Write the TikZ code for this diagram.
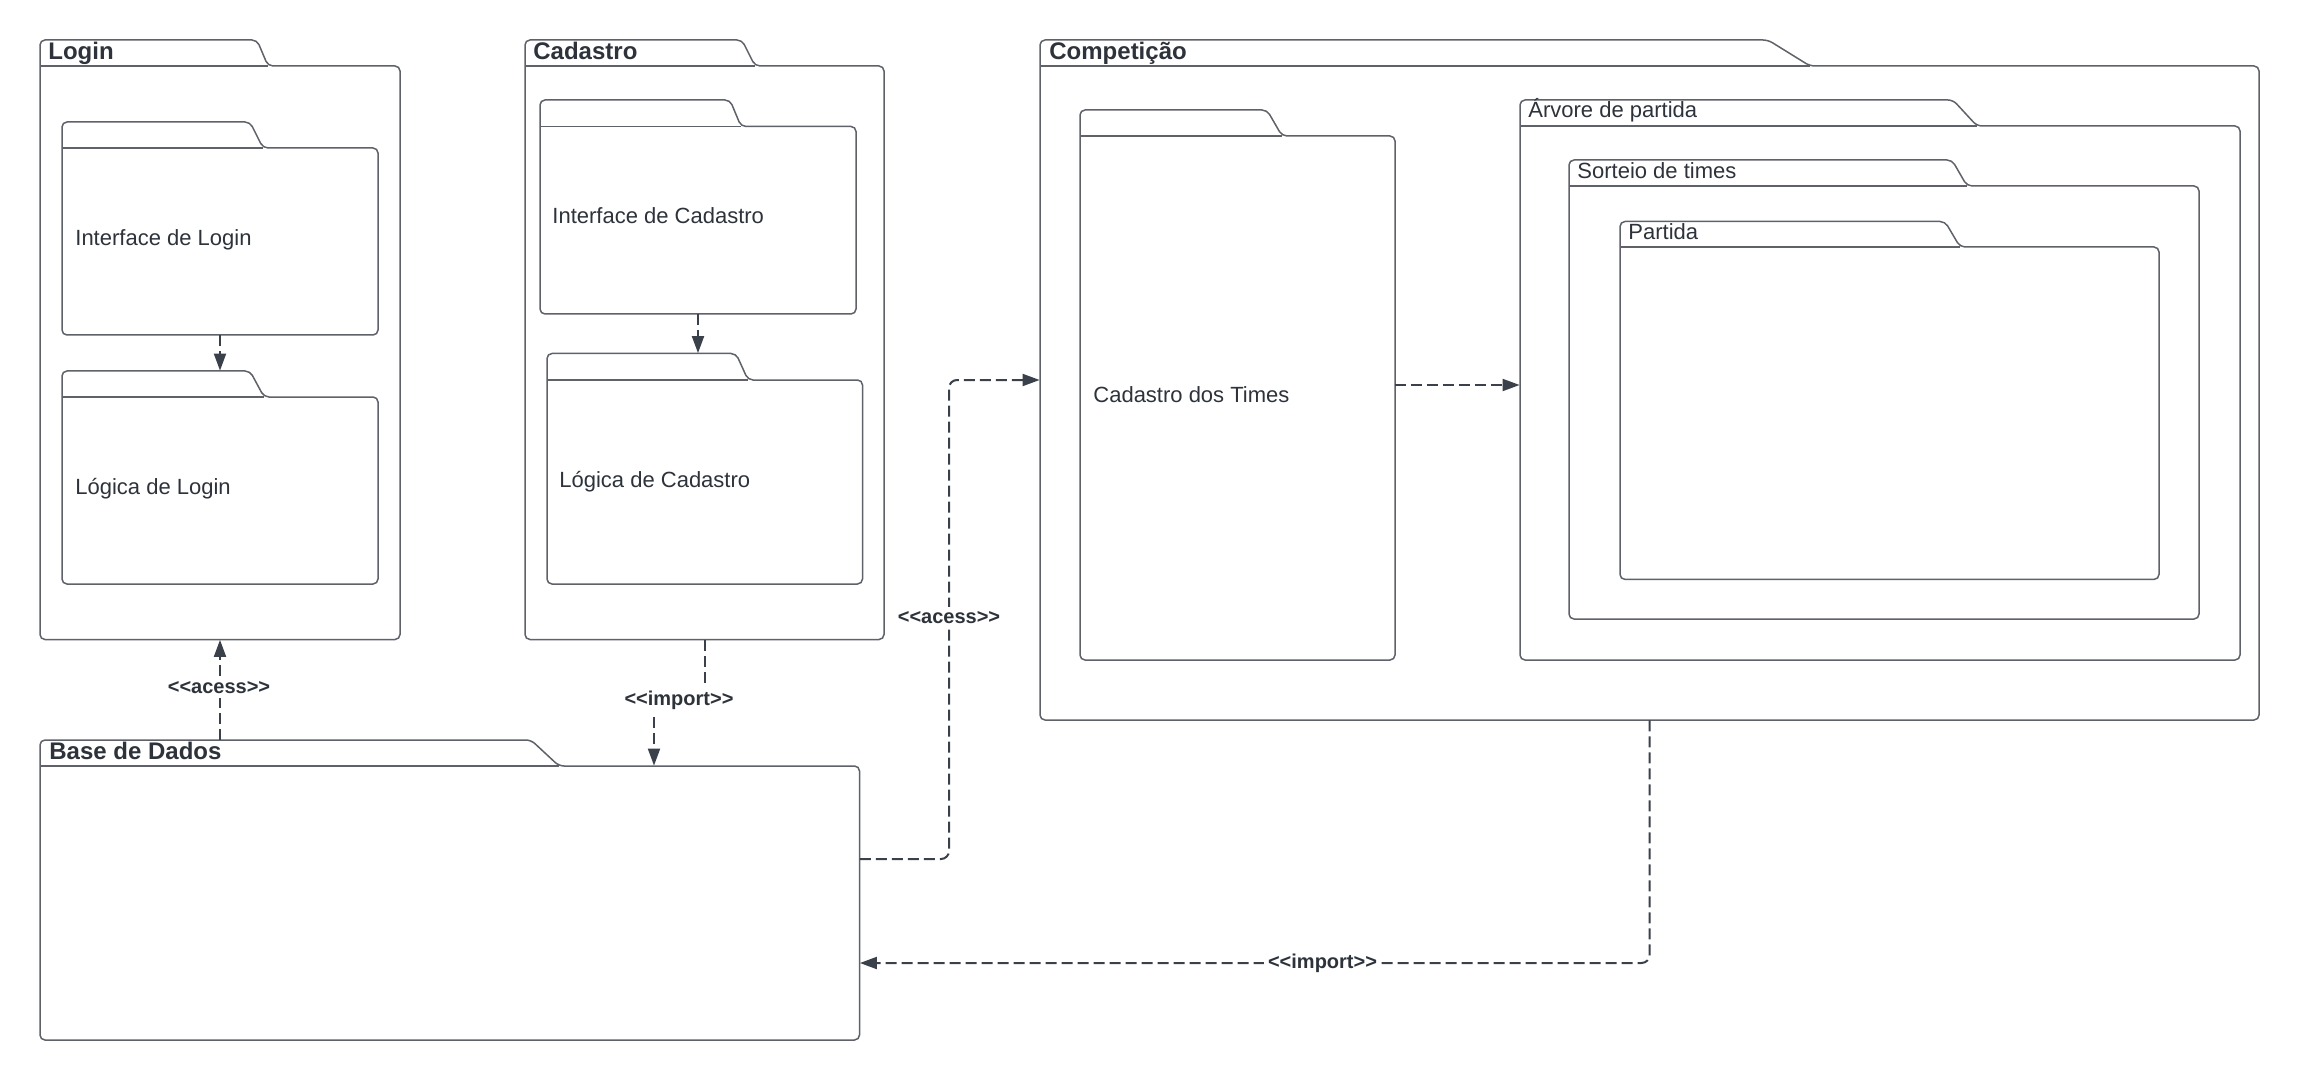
\documentclass[tikz,border=0pt]{standalone}
\usepackage{fontspec}
\setmainfont{Liberation Sans}[Ligatures=TeXOff]
\usetikzlibrary{arrows.meta,fit}

\definecolor{pkgline}{HTML}{5F6269}
\definecolor{depline}{HTML}{3A414A}
\definecolor{ink}{HTML}{2E333B}

\tikzset{
  pkg/.style={draw=pkgline, line width=0.75pt, fill=white, rounded corners=2.5pt},
  pkgframe/.style={inner sep=0pt, draw=none},
  pkgtitle/.style={anchor=base west, inner sep=0pt, text=ink,
    font=\bfseries\fontsize{12}{14}\selectfont},
  pkgtext/.style={anchor=base west, inner sep=0pt, text=ink,
    font=\fontsize{11}{13}\selectfont},
  dep/.style={draw=depline, line width=1pt, dash pattern=on 5.5pt off 2.5pt,
    -{Triangle[length=8.5pt,width=6pt]}},
  deplabel/.style={fill=white, inner sep=2pt, text=ink,
    font=\bfseries\fontsize{10}{12}\selectfont}
}

% folder-shaped package: name, left, tab top, body top, right, bottom,
% start and end of the tab's slanted edge (all in pixel units)
\newcommand\folder[8]{%
  \draw[pkg] (#2,{(#4+#6)/2}) -- (#2,#3) -- (#7,#3) -- (#8,#4) -- (#5,#4)
    -- (#5,#6) -- (#2,#6) -- cycle;
  \draw[pkgline, line width=0.75pt] (#2,#4) -- (#8,#4);
  \node[pkgframe, fit={(#2,#3) (#5,#6)}] (#1) {};
  \node[pkgframe, fit={(#2,#4) (#5,#6)}] (#1-body) {};
}

\begin{document}
\begin{tikzpicture}[x=0.5pt, y=-0.5pt]
  \useasboundingbox (0,0) rectangle (2300,1080);
  \fill[white] (0,0) rectangle (2300,1080);

  % Login
  \folder{login}{40}{40}{66}{400}{639.5}{257}{268}
  \folder{loginUI}{62}{122}{148}{378}{335}{250}{263}
  \folder{loginLogic}{62}{371}{397}{378}{584}{250}{264}
  \node[pkgtitle] (loginT) at (48,60) {Login};
  \node[pkgtext] (loginUIT) at (75,246) {Interface de Login};
  \node[pkgtext] (loginLogicT) at (75,494) {Lógica de Login};

  % Cadastro
  \folder{cad}{525}{40}{66}{884}{639.5}{742}{755}
  \folder{cadUI}{540}{100}{126.5}{856}{314}{730}{741}
  \folder{cadLogic}{547}{353.5}{380}{862.5}{584}{736}{748}
  \node[pkgtitle] (cadT) at (533,59.5) {Cadastro};
  \node[pkgtext] (cadUIT) at (552,224) {Interface de Cadastro};
  \node[pkgtext] (cadLogicT) at (559,487) {Lógica de Cadastro};

  % Base de Dados
  \folder{base}{40}{740}{766}{859.5}{1040}{531}{559}
  \node[pkgtitle] (baseT) at (49,759) {Base de Dados};

  % Competição
  \folder{comp}{1040}{40}{66}{2259}{720}{1768}{1810}
  \folder{times}{1080}{110}{136}{1395}{660}{1267}{1282}
  \folder{arvore}{1520}{100}{126}{2240}{660}{1953}{1977}
  \folder{sorteio}{1569}{160}{186}{2199}{619}{1952}{1967}
  \folder{partida}{1620}{221.5}{247}{2159}{579.4}{1945}{1960}
  \node[pkgtitle] (compT) at (1049,59.5) {Competição};
  \node[pkgtext] (timesT) at (1093,402) {Cadastro dos Times};
  \node[pkgtext] (arvoreT) at (1528,117.3) {Árvore de partida};
  \node[pkgtext] (sorteioT) at (1577,178.3) {Sorteio de times};
  \node[pkgtext] (partidaT) at (1628,239.3) {Partida};

  % dependencies
  \draw[dep] (loginUI.south) -- (loginLogic.north);
  \draw[dep] (cadUI.south) -- (cadUI.south |- cadLogic.north);
  \draw[dep] (login.south |- base.north) -- (login.south);
  \node[deplabel] (acess1) at (219,688) {<<acess>>};

  \draw[dep] (cad.south) -- (cad.south |- 0,700) -- (654,700)
    -- (654,0 |- base-body.north);
  \node[deplabel] (import1) at (679,700) {<<import>>};

  \draw[dep, rounded corners=4pt] (base-body.east |- 0,859) -- (949,859)
    -- (949,380) -- (comp.west |- 0,380);
  \node[deplabel] (acess2) at (949,617.5) {<<acess>>};

  \draw[dep] (times.east |- 0,385) -- (arvore.west |- 0,385);

  \draw[dep, rounded corners=4pt] (comp.south) -- (comp.south |- 0,963)
    -- (base-body.east |- 0,963);
  \node[deplabel] (import2) at (1322.5,963) {<<import>>};
\end{tikzpicture}
\end{document}
